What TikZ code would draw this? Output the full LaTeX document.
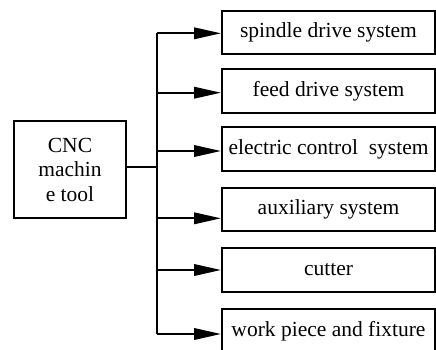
\documentclass[tikz,border=0pt]{standalone}
\usepackage{fontspec}
\setmainfont{Liberation Serif}
\usetikzlibrary{arrows.meta}
\begin{document}
\begin{tikzpicture}[x=1pt,y=-1pt,
  sysbox/.style={draw,line width=2pt,minimum width=213pt,minimum height=43.5pt,inner sep=0pt,
    font=\fontsize{21.5}{24.5}\selectfont},
  mainbox/.style={draw,line width=2pt,minimum width=112pt,minimum height=97pt,inner sep=0pt,align=center,
    font=\fontsize{21.5}{24.5}\selectfont},
  conn/.style={line width=2pt},
  arr/.style={line width=2pt,-{Triangle[length=27pt,width=11.5pt]}}]
\useasboundingbox (0,0) rectangle (436,349);
\node[mainbox] (cnc) at (70,169.5) {CNC\\machin\\e tool};
\node[sysbox] (b1) at (328.5,32.5) {spindle drive system};
\node[sysbox] (b2) at (328.5,91) {feed drive system};
\node[sysbox] (b3) at (328.5,149) {electric control\ \ system};
\node[sysbox] (b4) at (328.5,209.5) {auxiliary system};
\node[sysbox] (b5) at (328.5,270) {cutter};
\node[sysbox] (b6) at (328.5,331) {work piece and fixture};
\coordinate (t1) at (157,33.3);
\coordinate (t2) at (157,92.7);
\coordinate (t3) at (157,151);
\coordinate (tc) at (157,167);
\coordinate (t4) at (157,218.3);
\coordinate (t5) at (157,270);
\coordinate (t6) at (157,334);
\draw[conn] (t1) -- (t6);
\draw[conn] (cnc.east |- tc) -- (tc);
\draw[arr] (t1) -- (t1 -| b1.west);
\draw[arr] (t2) -- (t2 -| b2.west);
\draw[arr] (t3) -- (t3 -| b3.west);
\draw[arr] (t4) -- (t4 -| b4.west);
\draw[arr] (t5) -- (t5 -| b5.west);
\draw[arr] (t6) -- (t6 -| b6.west);
\end{tikzpicture}
\end{document}
